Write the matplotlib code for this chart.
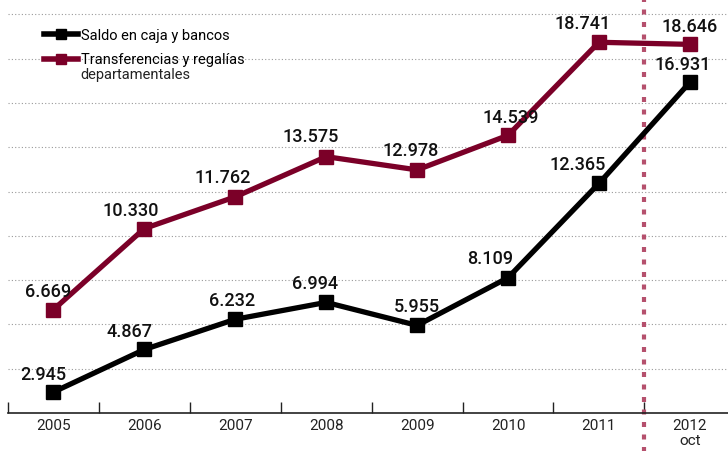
import matplotlib
matplotlib.use("Agg")
import matplotlib.pyplot as plt

# datos (billones de pesos)
years = ["2005", "2006", "2007", "2008", "2009", "2010", "2011", "2012\noct"]
saldo = [2.945, 4.867, 6.232, 6.994, 5.955, 8.109, 12.365, 16.931]
transf = [6.669, 10.330, 11.762, 13.575, 12.978, 14.539, 18.741, 18.646]

saldo_lbl = ["2.945", "4.867", "6.232", "6.994", "5.955", "8.109", "12.365", "16.931"]
transf_lbl = ["6.669", "10.330", "11.762", "13.575", "12.978", "14.539", "18.741", "18.646"]

plt.rcParams["font.family"] = ["Roboto", "DejaVu Sans"]

black = "#000000"
maroon = "#7b0028"
pink = "#b5506d"

fig = plt.figure(figsize=(7.28, 4.51), dpi=100)
ax = fig.add_axes([0.011, 0.0843, 0.989, 0.9157])

x = list(range(len(years)))
ax.plot(x, saldo, color=black, lw=3.8, marker="s", ms=10, solid_joinstyle="miter",
        label="Saldo en caja y bancos", zorder=3)
ax.plot(x, transf, color=maroon, lw=3.8, marker="s", ms=10, solid_joinstyle="miter",
        label="Transferencias y regalías", zorder=3)

# desplazamientos de etiquetas (puntos)
off_s = [(-7, 6), (-11, 6), (-2, 7), (-8, 7), (0, 7), (-13, 7), (-15, 7), (-5, 6)]
off_t = [(-4, 6), (-10, 6), (-9, 7), (-11, 8), (-5, 7), (2, 6), (-12, 7), (0, 6)]
for i in x:
    ax.annotate(saldo_lbl[i], (x[i], saldo[i]), xytext=off_s[i], textcoords="offset points",
                ha="center", va="bottom", fontsize=13, fontweight="medium", color="#111111")
    ax.annotate(transf_lbl[i], (x[i], transf[i]), xytext=off_t[i], textcoords="offset points",
                ha="center", va="bottom", fontsize=13, fontweight="medium", color="#111111")

ax.set_xlim(-0.5, 7.42)
ax.set_ylim(2.0, 20.65)
ax.set_yticks(range(4, 21, 2))
ax.yaxis.grid(True, linestyle=(0, (1, 2)), color="#999999", lw=0.8)
ax.tick_params(axis="y", left=False, labelleft=False)

ax.set_xticks(x)
ax.set_xticklabels(years, fontsize=11, color="#222222", linespacing=1.15)
ax.tick_params(axis="x", which="major", length=0, pad=4)
ax.set_xticks([i + 0.5 for i in range(-1, 7)], minor=True)
ax.tick_params(axis="x", which="minor", direction="in", length=8, width=1, color="#222222")

for s in ["left", "right", "top"]:
    ax.spines[s].set_visible(False)
ax.spines["bottom"].set_color("#222222")
ax.spines["bottom"].set_linewidth(1.2)

ax.axvline(6.5, ymin=-0.1, ymax=1, color=pink, lw=3, linestyle=(0, (1.2, 1.8)),
           clip_on=False, zorder=2)

leg = ax.legend(loc="upper left", bbox_to_anchor=(0.042, 0.945), frameon=False,
                fontsize=10.5, handlelength=2.3, handletextpad=0.2, labelspacing=0.75,
                borderaxespad=0)
for h in leg.legend_handles:
    h.set_markersize(7)
    h.set_linewidth(4)

# segunda linea del rotulo de la leyenda, bajo "Transferencias y regalías"
fig.canvas.draw()
bb = leg.get_texts()[1].get_window_extent()
fig.text(bb.x0 / fig.bbox.width, (bb.y0 - 1) / fig.bbox.height, "departamentales",
         ha="left", va="top", fontsize=10.5, color="#222222")

fig.savefig("out.png", dpi=100)
